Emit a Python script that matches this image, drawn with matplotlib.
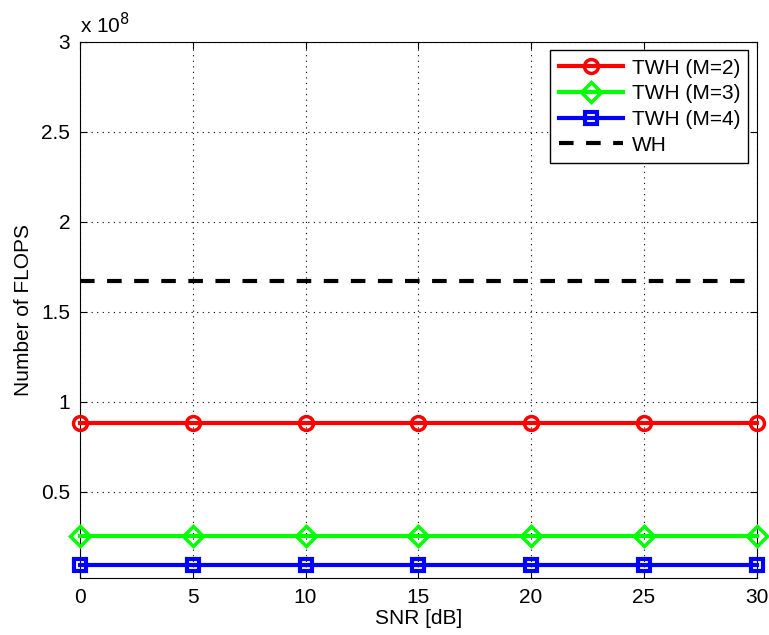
import matplotlib
matplotlib.use("Agg")
import matplotlib.pyplot as plt
from matplotlib.ticker import FuncFormatter, MultipleLocator

plt.rcParams["font.family"] = ["Liberation Sans", "DejaVu Sans"]

snr_db = [0, 5, 10, 15, 20, 25, 30]
flops_twh_m2 = [0.88e8] * 7
flops_twh_m3 = [0.25e8] * 7
flops_twh_m4 = [0.09e8] * 7
flops_wh = [1.67e8] * 7

fs = 15

fig = plt.figure(figsize=(7.69, 6.35), dpi=100)
ax = fig.add_axes([0.104, 0.09, 0.88, 0.844])

ax.plot(snr_db, flops_twh_m2, color="red", lw=3, marker="o", ms=10,
        mfc="none", mew=2.5, label="TWH (M=2)", clip_on=False, zorder=3)
ax.plot(snr_db, flops_twh_m3, color="#00ff00", lw=3, marker="D", ms=10,
        mfc="none", mew=2.5, label="TWH (M=3)", clip_on=False, zorder=3)
ax.plot(snr_db, flops_twh_m4, color="blue", lw=3, marker="s", ms=9,
        mfc="none", mew=3, label="TWH (M=4)", clip_on=False, zorder=3)
ax.plot(snr_db, flops_wh, color="black", lw=3, ls=(0, (3.5, 3)), label="WH")

ax.set_xlim(0, 30)
ax.set_ylim(0.02e8, 3e8)
ax.xaxis.set_major_locator(MultipleLocator(5))
ax.yaxis.set_major_locator(MultipleLocator(0.5e8))
ax.yaxis.set_major_formatter(FuncFormatter(lambda v, p: f"{v / 1e8:g}"))

ax.tick_params(direction="in", top=True, right=True, labelsize=fs, length=5,
               pad=7)
ax.grid(True, color="black", ls=(0, (1, 4)), lw=0.8)
ax.set_xlabel("SNR [dB]", fontsize=fs, labelpad=2)
ax.set_ylabel("Number of FLOPS", fontsize=fs, labelpad=6)
ax.text(0.0, 1.008, "x 10$^{8}$", transform=ax.transAxes, fontsize=fs,
        ha="left", va="bottom")

leg = ax.legend(loc="upper right", fontsize=fs, fancybox=False,
                edgecolor="black", framealpha=1, handlelength=3.1,
                borderaxespad=0.4, labelspacing=0.32, handletextpad=0.4,
                borderpad=0.4)
leg.get_frame().set_linewidth(1)

fig.savefig("out.png", dpi=100)
